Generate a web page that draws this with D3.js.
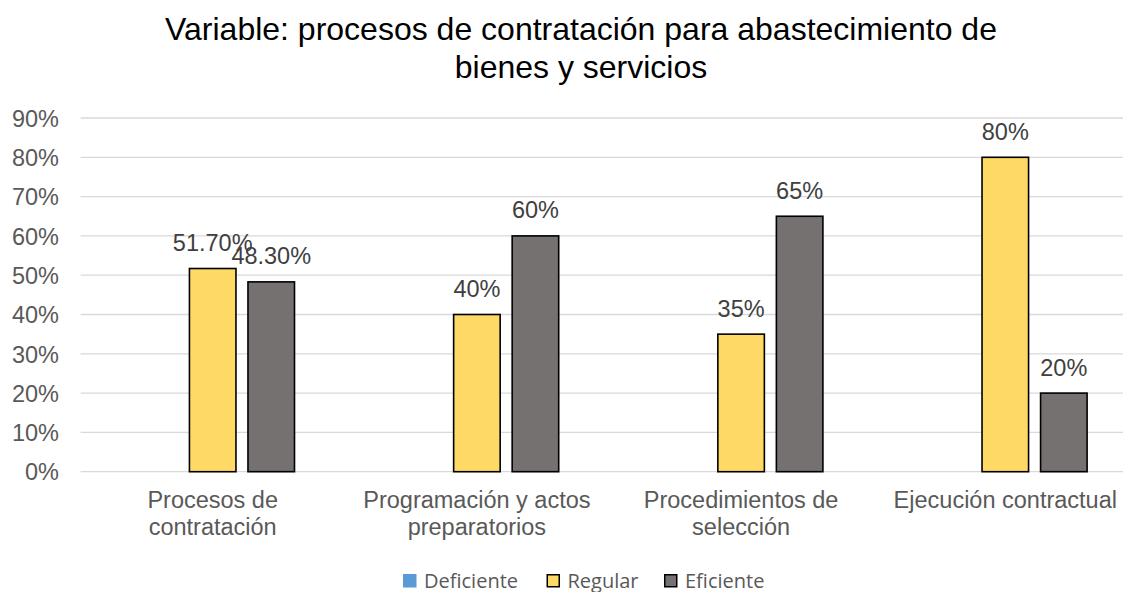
<!DOCTYPE html>
<html><head><meta charset="utf-8">
<script src="https://cdn.jsdelivr.net/npm/d3@7"></script>
<style>body{margin:0;background:#fff;}svg{display:block;}</style>
</head><body>
<svg id="chart" width="1123" height="592"></svg>
<script>
const categories = [["Procesos de","contratación"],["Programación y actos","preparatorios"],["Procedimientos de","selección"],["Ejecución contractual"]];
const seriesNames = ["Deficiente","Regular","Eficiente"];
const deficiente = [null,null,null,null];
const regular = [0.517,0.40,0.35,0.80];
const eficiente = [0.483,0.60,0.65,0.20];
const regularLabels = ["51.70%","40%","35%","80%"];
const eficienteLabels = ["48.30%","60%","65%","20%"];
const yTicks = [0,0.1,0.2,0.3,0.4,0.5,0.6,0.7,0.8,0.9];
const titleLines = ["Variable: procesos de contratación para abastecimiento de","bienes y servicios"];

const colors = {Deficiente:"#5B9BD5",Regular:"#FFD966",Eficiente:"#767171"};
const svg = d3.select("#chart");
const font = "Liberation Sans, Arial, sans-serif";
const textCol = "#595959";

const plotL = 80.6, plotR = 1137.4, plotT = 118, plotB = 471.7;
const x0 = d3.scaleBand().domain(d3.range(categories.length)).range([plotL,plotR]).padding(0);
const x1 = d3.scaleBand().domain(seriesNames).range([50.3,213.9]).paddingInner(0.205).paddingOuter(0);
const y = d3.scaleLinear().domain([0,0.9]).range([plotB,plotT]);

// title
svg.append("g").selectAll("text").data(titleLines).join("text")
  .attr("x",581).attr("y",(d,i)=>40+i*38)
  .attr("text-anchor","middle").attr("font-family",font).attr("font-size",32).attr("fill","#000")
  .text(d=>d);

// gridlines
svg.append("g").selectAll("line").data(yTicks).join("line")
  .attr("x1",plotL).attr("x2",plotR).attr("y1",d=>y(d)).attr("y2",d=>y(d))
  .attr("stroke","#D9D9D9").attr("stroke-width",1.3);

// y axis labels
const yAxis = d3.axisLeft(y).tickValues(yTicks).tickFormat(d3.format(".0%")).tickSize(0).tickPadding(0);
const ya = svg.append("g").attr("transform","translate(59,0)").call(yAxis);
ya.select(".domain").remove();
ya.selectAll("text").attr("font-family",font).attr("font-size",23.5).attr("fill",textCol).attr("dy","0.35em");

// bars
const data = [];
categories.forEach((c,i)=>{
  data.push({i,s:"Deficiente",v:deficiente[i],l:null});
  data.push({i,s:"Regular",v:regular[i],l:regularLabels[i]});
  data.push({i,s:"Eficiente",v:eficiente[i],l:eficienteLabels[i]});
});
const valid = data.filter(d=>d.v!=null);
svg.append("g").selectAll("rect").data(valid).join("rect")
  .attr("x",d=>x0(d.i)+x1(d.s)).attr("width",x1.bandwidth())
  .attr("y",d=>y(d.v)).attr("height",d=>y(0)-y(d.v))
  .attr("fill",d=>colors[d.s]).attr("stroke","#000").attr("stroke-width",1.6);

// data labels
svg.append("g").selectAll("text").data(valid).join("text")
  .attr("x",d=>x0(d.i)+x1(d.s)+x1.bandwidth()/2).attr("y",d=>y(d.v)-17.5)
  .attr("text-anchor","middle").attr("font-family",font).attr("font-size",23.5).attr("fill","#404040")
  .text(d=>d.l);

// category labels
const cg = svg.append("g").selectAll("text").data(categories).join("text")
  .attr("x",(d,i)=>x0(i)+x0.bandwidth()/2).attr("y",508)
  .attr("text-anchor","middle").attr("font-family",font).attr("font-size",23.5).attr("fill",textCol);
cg.selectAll("tspan").data(d=>d).join("tspan")
  .attr("x",function(){return this.parentNode.getAttribute("x");})
  .attr("dy",(d,i)=>i===0?0:27).text(d=>d);

// legend
const legX = [403,546.5,664];
const lg = svg.append("g").selectAll("g").data(seriesNames).join("g")
  .attr("transform",(d,i)=>`translate(${legX[i]},574)`);
lg.append("rect").attr("width",d=>d==="Deficiente"?13.5:12).attr("height",d=>d==="Deficiente"?13.5:12)
  .attr("x",d=>d==="Deficiente"?0:0.75).attr("y",d=>d==="Deficiente"?0:0.75)
  .attr("fill",d=>colors[d]).attr("stroke",d=>d==="Deficiente"?"none":"#000").attr("stroke-width",1.5);
lg.append("text").attr("x",21).attr("y",13.5).attr("font-family","Open Sans, Noto Sans, sans-serif")
  .attr("font-size",20).attr("fill",textCol).text(d=>d);
</script>
</body></html>
